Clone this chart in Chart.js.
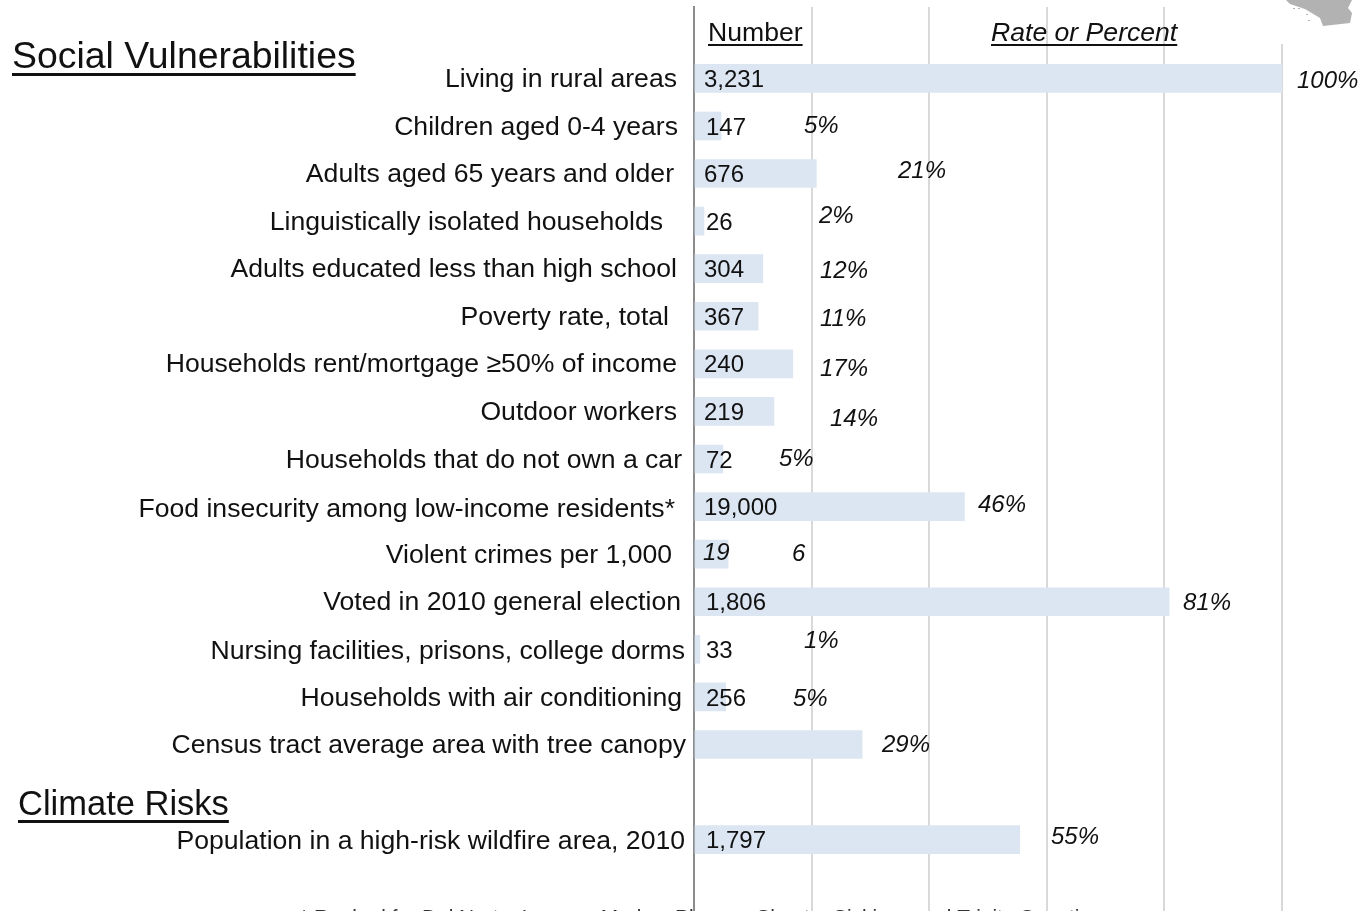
<!DOCTYPE html>
<html>
<head>
<meta charset="utf-8">
<style>
html,body{margin:0;padding:0;background:#fff;overflow:hidden}
#wrap{position:relative;width:1360px;height:911px}
</style>
<script src="https://cdn.jsdelivr.net/npm/chart.js@4"></script>
</head>
<body>
<div id="wrap"><canvas id="chart" width="1360" height="911"></canvas></div>
<script>
const categories=["","Living in rural areas","Children aged 0-4 years","Adults aged 65 years and older","Linguistically isolated households","Adults educated less than high school","Poverty rate, total","Households rent/mortgage ≥50% of income","Outdoor workers","Households that do not own a car","Food insecurity among low-income residents*","Violent crimes per 1,000","Voted in 2010 general election","Nursing facilities, prisons, college dorms","Households with air conditioning","Census tract average area with tree canopy"," ","Population in a high-risk wildfire area, 2010","  "];
const percentValues=[null,100,4.6,20.8,1.7,11.7,10.9,16.8,13.6,4.9,46,5.8,80.8,1,5.4,28.6,null,55.4,null];
const numberLabels=["","3,231","147","676","26","304","367","240","219","72","19,000","19","1,806","33","256","","","1,797",""];
const rateLabels=["","100%","5%","21%","2%","12%","11%","17%","14%","5%","46%","6","81%","1%","5%","29%","","55%",""];
const tickValues=[0,20,40,60,80,100];
const footnote="* Ranked for Del Norte, Lassen, Modoc, Plumas, Shasta, Siskiyou and Trinity Counties";

// hand placed text in the original, [x,y] nudges from the row centre
const catEnd=[0,677,678,674,663,677,669,677,677,682,675,672,681,685,682,686,0,685,0];
const catDy=[0,1,2,1,2,1,1,1,1,2,3,1,1,2,2,1,0,2,0];
const numX=[0,704,706,704,706,704,704,704,704,706,704,703,706,706,706,0,0,706,0];
const numDy=[0,2,2,2,2,2,2,2,2,2,2,-1,2,2,2,0,0,2,0];
const rateX=[0,1297,804,898,819,820,820,820,830,779,978,792,1183,804,793,882,0,1051,0];
const rateDy=[0,3,0,-2,-5,3,3,5,8,0,-1,0,2,-8,2,1,0,-2,0];

// corner of the state map, cropped by the top of the picture
const mapOutline=[[1286,0],[1290,4],[1305,9],[1320,18],[1323,26],[1350,23],[1352,13],[1348,8],[1352,0]];
const mapIslands=[[1293,8],[1298,8],[1306,14],[1308,20]];

const LABEL='26.6px "Liberation Sans"';
const textPlugin={
  id:'textPlugin',
  afterDraw(chart){
    const c=chart.ctx,y=chart.scales.y;
    c.save();
    // 100% gridline starts lower than the others
    c.fillStyle='#fff';
    c.fillRect(chart.scales.x.getPixelForValue(100)-2,0,4,44);

    c.fillStyle='#b2b2b2';
    c.beginPath();
    mapOutline.forEach((p,i)=>i?c.lineTo(p[0],p[1]):c.moveTo(p[0],p[1]));
    c.fill();
    mapIslands.forEach(p=>c.fillRect(p[0],p[1],2,1));

    c.textBaseline='middle';
    c.fillStyle='#111';
    categories.forEach((name,i)=>{
      const cy=y.getPixelForValue(i);
      c.font=LABEL;
      c.textAlign='right';
      if(name.trim()) c.fillText(name,catEnd[i],cy+catDy[i]);
      c.textAlign='left';
      // the crime rate is the one italic figure in this column
      c.font=(i==11?'italic ':'')+'24px "Liberation Sans"';
      if(numberLabels[i]) c.fillText(numberLabels[i],numX[i],cy+numDy[i]);
      c.font='italic 24px "Liberation Sans"';
      if(rateLabels[i]) c.fillText(rateLabels[i],rateX[i],cy+rateDy[i]);
    });
    c.textAlign='left';
    underlined(c,'Number',LABEL,708,34,44,2);
    underlined(c,'Rate or Percent','italic '+LABEL,991,34,44,2);
    underlined(c,'Social Vulnerabilities','37.4px "Liberation Sans"',12,58,73,3);
    underlined(c,'Climate Risks','34.5px "Liberation Sans"',18,805,820,3);
    c.font='20.9px "Liberation Sans"';
    c.fillStyle='#333';
    c.fillText(footnote,300,918);
    c.restore();
  }
};
function underlined(c,text,font,x,yy,lineY,h){
  c.font=font;
  c.fillText(text,x,yy);
  c.fillRect(x,lineY,c.measureText(text).width,h);
}

new Chart(document.getElementById('chart'),{
  type:'bar',
  data:{
    labels:categories,
    datasets:[{data:percentValues,backgroundColor:'#dce6f2',barThickness:28,borderWidth:0}]
  },
  plugins:[textPlugin],
  options:{
    indexAxis:'y',
    responsive:false,
    animation:false,
    layout:{padding:{left:694,right:78,top:7,bottom:0}},
    plugins:{legend:{display:false},tooltip:{enabled:false}},
    scales:{
      x:{
        min:0,max:100,
        afterBuildTicks(s){s.ticks=tickValues.map(v=>({value:v}));},
        ticks:{display:false},
        border:{display:false},
        grid:{color:'#d9d9d9',lineWidth:2,drawTicks:false}
      },
      y:{
        ticks:{display:false},
        border:{display:true,color:'#8c8c8c',width:2},
        grid:{display:false,drawTicks:false}
      }
    }
  }
});
</script>
</body>
</html>
